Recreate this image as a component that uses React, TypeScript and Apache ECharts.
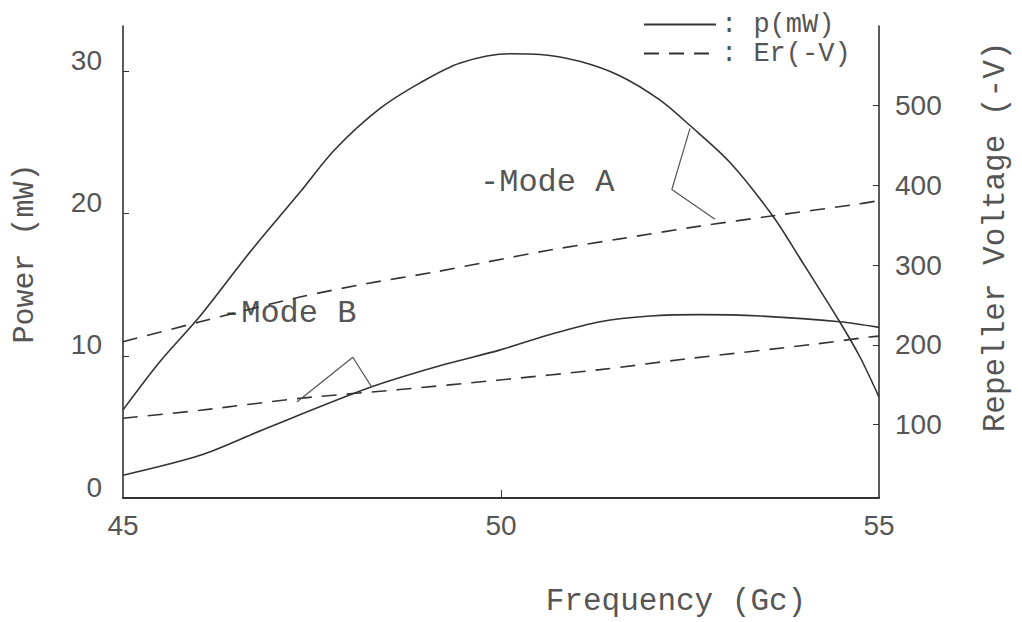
import React, { useEffect, useRef } from "react";
import * as echarts from "echarts";

// Mode A (upper power curve) and its repeller voltage
const freqA = [45, 45.49, 46.02, 46.68, 47.34, 47.8, 48.4, 48.93, 49.46, 50.12, 50.52, 51.05, 51.57, 52.1, 52.5, 53.03, 53.6, 53.95, 54.48, 54.75, 55];
const powerA = [6.2, 9.6, 12.8, 17.3, 21.5, 24.5, 27.4, 29.2, 30.6, 31.25, 31.2, 30.7, 29.7, 28.0, 26.2, 23.6, 19.8, 16.9, 12.4, 9.9, 7.1];
const freqErA = [45, 46.02, 47.34, 48.23, 49.1, 49.76, 50.65, 51.57, 52.63, 53.6, 54.75, 55];
const voltA = [204, 229, 260, 277, 291, 303, 319, 333, 349, 362, 377, 381];

// Mode B (lower power curve) and its repeller voltage
const freqB = [45, 46.02, 46.85, 48.28, 49.19, 49.98, 50.65, 51.31, 51.97, 52.63, 53.43, 54.48, 55];
const powerB = [1.6, 3.0, 4.8, 7.8, 9.3, 10.4, 11.5, 12.4, 12.8, 12.9, 12.8, 12.4, 12.0];
const freqErB = [45, 46.02, 47.34, 48.66, 49.98, 51.31, 52.41, 54.15, 54.88, 55];
const voltB = [108, 118, 133, 144, 156, 169, 182, 201, 210, 211];

// Hand-drawn pointer brackets (frequency, power)
const pointerAFreq = [52.5, 52.26, 52.83];
const pointerAPow = [26.0, 21.7, 19.6];
const pointerBFreq = [47.3, 48.04, 48.29];
const pointerBPow = [6.75, 9.9, 7.8];

// Tick labels
const xTicks = [45, 50, 55];
const xTickMarks = [50];
const powerTicks = [0, 10, 20, 30];
const powerTickMarks = [10, 20, 30];
const voltTicks = [100, 200, 300, 400, 500];

const zip = (a: number[], b: number[]) => a.map((v, i) => [v, b[i]]);

const MONO = '"Liberation Mono", "DejaVu Sans Mono", monospace';
const SANS = '"Liberation Sans", Arial, sans-serif';
const INK = "#333";
const TXT = "#555";

export default function App() {
  const ref = useRef<HTMLDivElement>(null);
  useEffect(() => {
    if (!ref.current) return;
    const chart = echarts.init(ref.current, null, { renderer: "svg" });
    const solid = { color: INK, width: 1.6, type: "solid" as const };
    const dashed = { color: INK, width: 1.6, type: [15, 10] as any };
    chart.setOption({
      animation: false,
      backgroundColor: "#fff",
      grid: { left: 123, right: 143, top: 26, bottom: 124 },
      legend: {
        data: ["p(mW)", "Er(-V)"],
        orient: "vertical",
        left: 638,
        top: 6,
        itemWidth: 72,
        itemHeight: 14,
        itemGap: 2,
        itemStyle: { opacity: 0 },
        formatter: (n: string) => ": " + n,
        textStyle: { fontFamily: MONO, fontSize: 27, color: TXT, lineHeight: 24 },
      },
      xAxis: {
        type: "value",
        min: 45,
        max: 55,
        name: "Frequency (Gc)",
        nameLocation: "middle",
        nameGap: 88,
        nameTextStyle: { fontFamily: MONO, fontSize: 31, color: TXT, padding: [0, 0, 0, 350] },
        axisLine: { lineStyle: { color: INK, width: 2 } },
        axisTick: { inside: true, length: 8, customValues: xTickMarks, lineStyle: { color: INK } },
        axisLabel: { customValues: xTicks, margin: 13, fontFamily: SANS, fontSize: 28, color: TXT },
        splitLine: { show: false },
      },
      yAxis: [
        {
          type: "value",
          min: 0,
          max: 33.2,
          position: "left",
          name: "Power (mW)",
          nameLocation: "middle",
          nameRotate: 90,
          nameGap: 83,
          nameTextStyle: { fontFamily: MONO, fontSize: 30, color: TXT, padding: [0, 0, 0, 17] },
          axisLine: { show: true, lineStyle: { color: INK, width: 1.6 } },
          axisTick: { show: true, inside: true, length: 6, customValues: powerTickMarks, lineStyle: { color: INK } },
          axisLabel: { customValues: powerTicks, margin: 21, fontFamily: SANS, fontSize: 28, color: TXT, verticalAlign: "bottom", lineHeight: 22 },
          splitLine: { show: false },
        },
        {
          type: "value",
          min: 8,
          max: 600,
          position: "right",
          name: "Repeller Voltage (-V)",
          nameLocation: "middle",
          nameRotate: 90,
          nameGap: 101,
          nameTextStyle: { fontFamily: MONO, fontSize: 31, color: TXT, padding: [0, 0, 0, 50] },
          axisLine: { show: true, lineStyle: { color: INK, width: 1.6 } },
          axisTick: { show: true, inside: true, length: 6, customValues: voltTicks, lineStyle: { color: INK } },
          axisLabel: { customValues: voltTicks, margin: 16, fontFamily: SANS, fontSize: 28, color: TXT },
          splitLine: { show: false },
        },
      ],
      series: [
        { name: "p(mW)", type: "line", yAxisIndex: 0, symbol: "none", smooth: 0.3, data: zip(freqA, powerA), lineStyle: solid, itemStyle: { color: INK } },
        { name: "p(mW)", type: "line", yAxisIndex: 0, symbol: "none", smooth: 0.3, data: zip(freqB, powerB), lineStyle: solid, itemStyle: { color: INK } },
        { name: "Er(-V)", type: "line", yAxisIndex: 1, symbol: "none", smooth: 0.3, data: zip(freqErA, voltA), lineStyle: dashed, itemStyle: { color: INK } },
        { name: "Er(-V)", type: "line", yAxisIndex: 1, symbol: "none", smooth: 0.3, data: zip(freqErB, voltB), lineStyle: dashed, itemStyle: { color: INK } },
        { name: "pointerA", type: "line", yAxisIndex: 0, symbol: "none", data: zip(pointerAFreq, pointerAPow), lineStyle: { color: "#555", width: 1.2 } },
        { name: "pointerB", type: "line", yAxisIndex: 0, symbol: "none", data: zip(pointerBFreq, pointerBPow), lineStyle: { color: "#555", width: 1.2 } },
      ],
      graphic: [
        { type: "text", x: 480, y: 182, style: { text: "-Mode A", fontFamily: MONO, fontSize: 32, fill: TXT, verticalAlign: "middle", align: "left" } },
        { type: "text", x: 222, y: 313, style: { text: "-Mode B", fontFamily: MONO, fontSize: 32, fill: TXT, verticalAlign: "middle", align: "left" } },
      ],
    });
    return () => chart.dispose();
  }, []);
  return (
    <div
      ref={ref}
      style={{ position: "fixed", left: 0, top: 0, width: 1022, height: 622, background: "#fff" }}
    />
  );
}
